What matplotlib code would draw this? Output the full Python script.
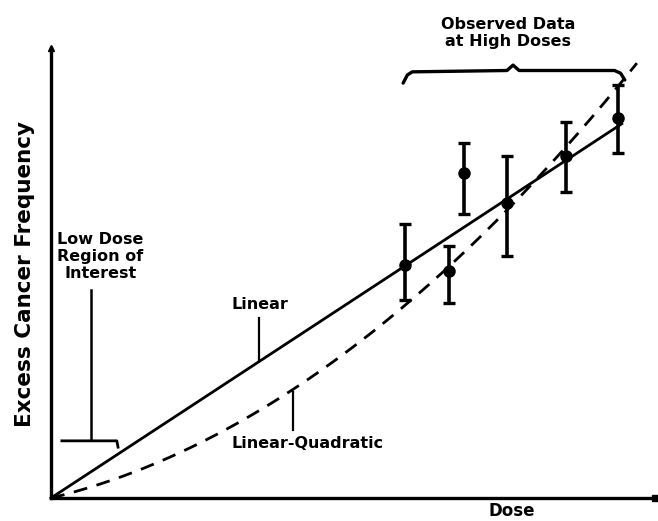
import numpy as np
import matplotlib
matplotlib.use("Agg")
import matplotlib.pyplot as plt

# Observed high-dose data (dose, excess frequency, asymmetric error bars)
dose_obs = [5.86, 6.59, 6.84, 7.55, 8.53, 9.39]
freq_obs = [5.18, 5.04, 7.22, 6.56, 7.60, 8.44]
err_low = [0.78, 0.71, 0.91, 1.18, 0.80, 0.77]
err_high = [0.91, 0.56, 0.67, 1.04, 0.76, 0.74]

# Dose-response models
linear_slope = 0.88
lq_alpha = 0.325
lq_beta = 0.0692
linear_dose_max = 9.45
lq_dose_max = 9.70

FONT = "DejaVu Sans"
LW_AXIS = 2.4

fig = plt.figure(figsize=(6.58, 5.21), dpi=100)
W, H = 658, 521
ax = fig.add_axes([51 / W, (H - 498) / H, 604 / W, 450 / H])
ax.set_xlim(0, 10)
ax.set_ylim(0, 10)
for s in ["top", "right"]:
    ax.spines[s].set_visible(False)
for s in ["left", "bottom"]:
    ax.spines[s].set_linewidth(LW_AXIS)
ax.set_xticks([])
ax.set_yticks([])

# axis end marks
ax.plot([0], [10], marker="^", ms=5, color="black", clip_on=False)
ax.plot([10], [0], marker="s", ms=4, color="black", clip_on=False)

# model curves
d_lin = np.linspace(0, linear_dose_max, 200)
ax.plot(d_lin, linear_slope * d_lin, color="black", lw=2.0, clip_on=False)
d_lq = np.linspace(0, lq_dose_max, 300)
ax.plot(d_lq, lq_alpha * d_lq + lq_beta * d_lq ** 2, color="black", lw=2.0,
        ls=(0, (5, 3.5)), clip_on=False)

# observed data
ax.errorbar(dose_obs, freq_obs, yerr=[err_low, err_high], fmt="o", color="black",
            ms=8, elinewidth=2.6, capsize=4, capthick=2.4, clip_on=False)

txt = dict(family=FONT, fontweight="bold", fontsize=11.5, color="black",
           ha="center", va="center")

# Observed data brace
ax.plot([5.83, 5.90, 5.98, 7.55, 7.65, 7.75, 9.33, 9.43, 9.50],
        [9.22, 9.40, 9.47, 9.50, 9.62, 9.50, 9.50, 9.44, 9.29],
        color="black", lw=2.4, clip_on=False, solid_capstyle="round")
ax.text(7.57, 10.33, "Observed Data\nat High Doses", linespacing=1.2,
        clip_on=False, **txt)

# Low dose region
ax.text(0.82, 5.36, "Low Dose\nRegion of\nInterest", linespacing=1.15, **txt)
ax.plot([0.66, 0.66], [4.62, 1.29], color="black", lw=1.8)
ax.plot([0.18, 1.09, 1.11], [1.27, 1.27, 1.13], color="black", lw=2.0)

# Curve labels
ax.text(3.46, 4.29, "Linear", **txt)
ax.plot([3.44, 3.44], [4.0, 3.05], color="black", lw=1.6)
ax.text(4.24, 1.22, "Linear-Quadratic", **txt)
ax.plot([4.0, 4.0], [1.51, 2.36], color="black", lw=1.6)

# axis titles
fig.text(25 / W, 1 - 274 / H, "Excess Cancer Frequency", rotation=90,
         family=FONT, fontweight="bold", fontsize=15.5, ha="center", va="center")
fig.text(512 / W, 1 - 511 / H, "Dose", family=FONT, fontweight="bold",
         fontsize=12, ha="center", va="center")

fig.savefig("out.png", dpi=100)
